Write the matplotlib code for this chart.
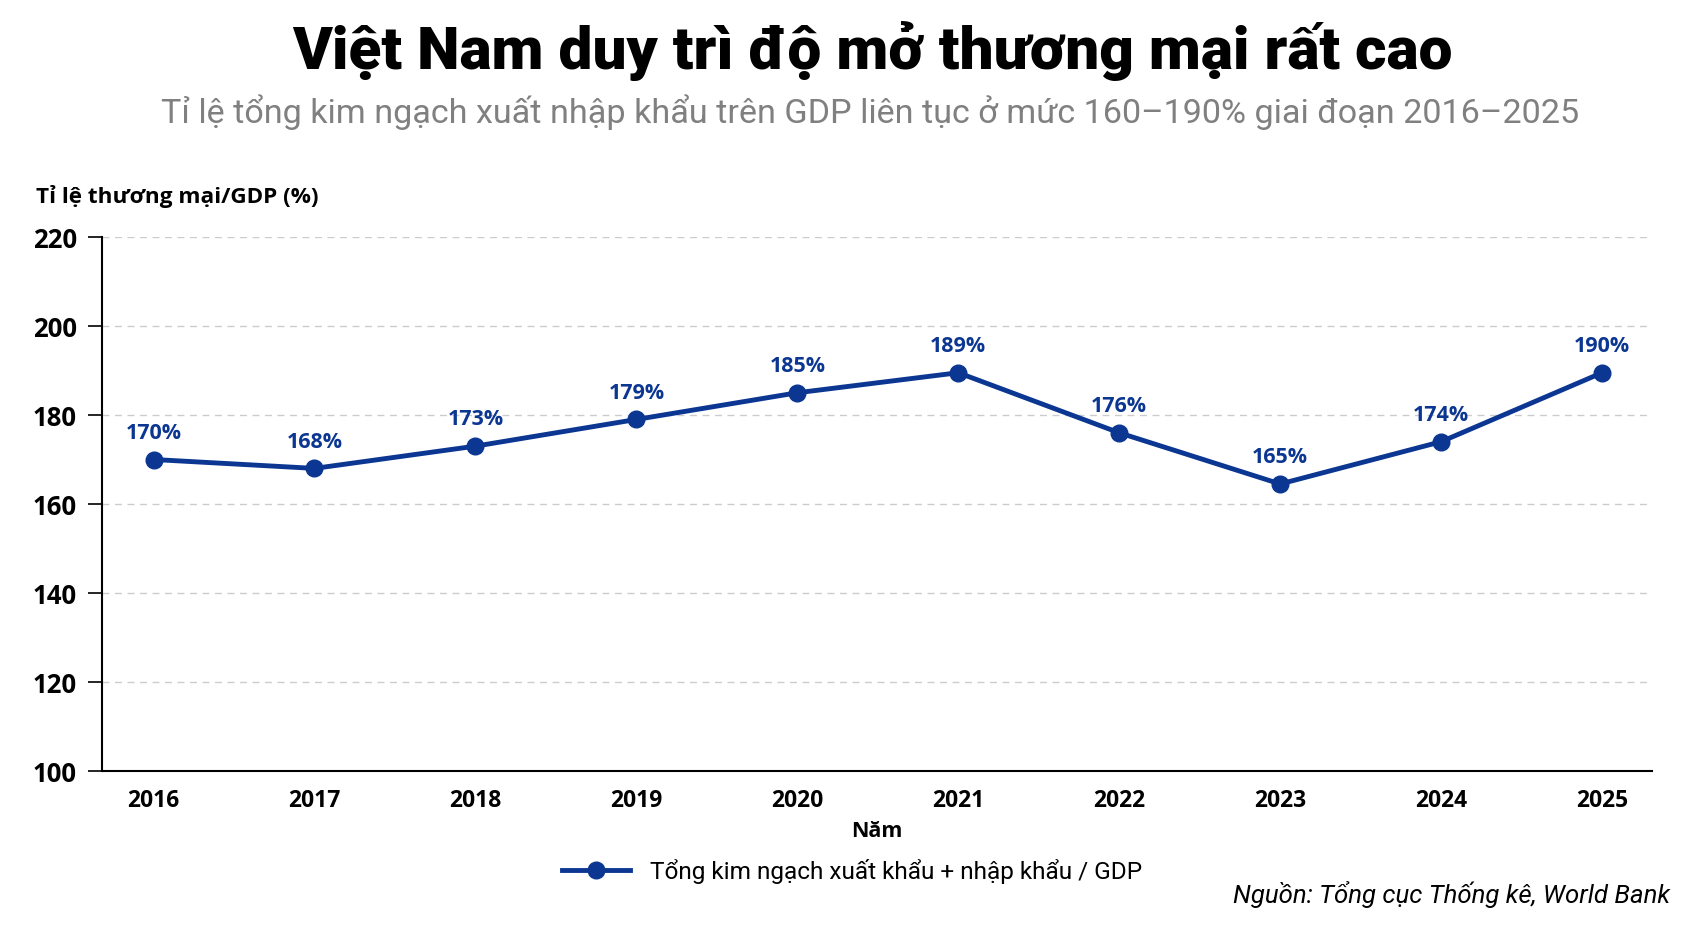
import matplotlib
matplotlib.use("Agg")
import matplotlib.pyplot as plt

years = [2016, 2017, 2018, 2019, 2020, 2021, 2022, 2023, 2024, 2025]
trade_ratio = [170, 168, 173, 179, 185, 189.5, 176, 164.5, 174, 189.5]
labels = ["170%", "168%", "173%", "179%", "185%", "189%", "176%", "165%", "174%", "190%"]
yticks = [100, 120, 140, 160, 180, 200, 220]

narrow = "Roboto"
base = "Open Sans"

plt.rcParams['font.family'] = [base, 'DejaVu Sans']
line_color = "#0b3691"

fig = plt.figure(figsize=(16.93, 9.29), dpi=100)
ax = fig.add_axes([102 / 1693, 1 - 772 / 929, (1652 - 102) / 1693, (772 - 238) / 929])

ax.plot(years, trade_ratio, color=line_color, lw=3.5, marker='o', ms=12,
        label="Tổng kim ngạch xuất khẩu + nhập khẩu / GDP", zorder=3)
for x, y, t in zip(years, trade_ratio, labels):
    ax.annotate(t, (x, y), xytext=(0, 12), textcoords='offset points', ha='center',
                va='bottom', fontsize=15.5, fontweight='bold', color=line_color)

ax.set_xlim(2015.68, 2025.31)
ax.set_ylim(100, 220)
ax.set_yticks(yticks)
ax.set_xticks(years)
ax.tick_params(axis='y', labelsize=18.5, length=10, width=1.2, pad=8)
ax.tick_params(axis='x', labelsize=16.5, length=0, pad=12)
for lab in ax.get_xticklabels() + ax.get_yticklabels():
    lab.set_fontweight('bold')
ax.grid(axis='y', ls=(0, (5, 4)), color='#cccccc', lw=1)
ax.set_axisbelow(True)
for s in ['top', 'right']:
    ax.spines[s].set_visible(False)
ax.spines['left'].set_linewidth(1.5)
ax.spines['bottom'].set_linewidth(1.5)
ax.set_xlabel("Năm", fontsize=15.5, fontweight='bold', labelpad=6)

fig.text(36 / 1693, 1 - 197 / 929, "Tỉ lệ thương mại/GDP (%)", fontsize=16.2, fontweight='bold',
         va='center', ha='left')

fig.text(0.515, 1 - 51 / 929, "Việt Nam duy trì độ mở thương mại rất cao", fontsize=43.5,
         fontweight='black', ha='center', va='center', family=[narrow, 'DejaVu Sans'])
fig.text(0.514, 1 - 112 / 929,
         "Tỉ lệ tổng kim ngạch xuất nhập khẩu trên GDP liên tục ở mức 160–190% giai đoạn 2016–2025",
         fontsize=24.6, color='#808080', ha='center', va='center', family=[narrow, 'DejaVu Sans'])

fig.legend(loc='center', bbox_to_anchor=(852 / 1693, 1 - 872 / 929), frameon=False,
           handlelength=2.8, prop={'family': [narrow, 'DejaVu Sans'], 'size': 17.6})
fig.text(1670 / 1693, 1 - 895 / 929, "Nguồn: Tổng cục Thống kê, World Bank", fontsize=18.5,
         style='italic', ha='right', va='center', family=[narrow, 'DejaVu Sans'])

fig.savefig("out.png", dpi=100, facecolor='white')
